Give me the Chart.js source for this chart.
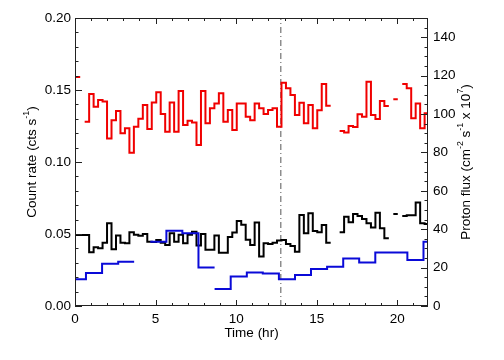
<!DOCTYPE html>
<html><head><meta charset="utf-8">
<script src="https://cdn.jsdelivr.net/npm/chart.js@4/dist/chart.umd.min.js"></script>
<style>html,body{margin:0;padding:0;background:#fff}</style>
</head><body>
<canvas id="c" width="504" height="360"></canvas>
<script>
// ---- tick labels ----
const xTicks = [0, 5, 10, 15, 20];
const countTicks = [0, 0.05, 0.10, 0.15, 0.20];
const fluxTicks = [0, 20, 40, 60, 80, 100, 120, 140];

// ---- count-rate series: fixed time bins ----
const binStartHr = 0.045;
const binWidthHr = 0.2775;
const redRate = [
  0.159, null, 0.128, 0.1472, 0.1384, 0.143, 0.142, 0.1164, 0.129, 0.1354,
  0.120, 0.1234, 0.1065, 0.1245, 0.130, 0.1396, 0.123, 0.1414, 0.1484, 0.1333,
  0.121, 0.1414, 0.121, 0.1493, 0.1257, 0.1287, 0.1275, 0.1118, 0.1493, 0.1269,
  0.1373, 0.1407, 0.1477, 0.128, 0.1361, 0.1222, 0.1407, 0.1407, 0.1315, 0.129,
  0.1407, 0.1373, 0.1333, 0.1361, 0.1373, 0.1245, 0.155, 0.1512, 0.1465, 0.1326,
  0.1412, 0.1269, 0.1396, 0.1234, 0.136, 0.1542, 0.139, null, null, 0.1215,
  0.1204, 0.125, 0.1243, 0.1331, 0.1315, 0.1558, 0.1326, 0.1299, 0.1424, 0.1389,
  null, 0.1435, null, 0.1542, 0.1512, 0.1303, 0.1407, 0.1234, 0.1338
];
const blackRate = [
  0.0493, 0.0493, 0.0493, 0.0373, 0.0408, 0.0401, 0.044, 0.0574, 0.0394, 0.049,
  0.044, 0.0435, 0.0512, 0.0495, 0.0488, 0.050, 0.0447, 0.0444, 0.0458, 0.044,
  0.0424, 0.0505, 0.0447, 0.0495, 0.0435, 0.0495, 0.0516, 0.042, 0.050, 0.039,
  0.039, 0.049, 0.037, 0.037, 0.048, 0.051, 0.059, 0.0565, 0.046, 0.0424,
  0.058, 0.0343, 0.0435, 0.0431, 0.044, 0.0454, 0.0458, 0.0431, 0.0417, 0.0377,
  0.0632, 0.0505, 0.0644, 0.052, 0.0512, 0.0563, 0.044, null, null, 0.0512,
  0.062, 0.0581, 0.0639, 0.0625, 0.0604, 0.0574, 0.0546, 0.0648, 0.054, 0.047,
  null, 0.0639, null, 0.0625, 0.063, 0.063, 0.0718, 0.0574, 0.057
];

// ---- proton flux: hourly bins ----
const protonHour = [-0.32, 0.68, 1.68, 2.68, 3.67, 4.67, 5.67, 6.66, 7.66, 8.66, 9.66, 10.66,
  11.65, 12.65, 13.65, 14.64, 15.64, 16.64, 17.63, 18.63, 19.63, 20.62, 21.62];
const protonFlux = [13.9, 17.2, 22.0, 23.1, null, 33.5, 39.2, 37.9, 20.1, 8.9, 15.3, 17.5,
  16.9, 13.9, 16.1, 19.3, 20.5, 24.8, 22.6, 27.8, 27.8, 24.0, 33.5];
const protonNoJoin = [8.66];

const markerHour = 12.77;

// ---- build step outlines from bins ----
function binSteps(starts, widths, vals, noJoin) {
  const pts = [];
  let prevNull = true;
  for (let i = 0; i < vals.length; i++) {
    const v = vals[i];
    if (v === null) { pts.push({x: starts[i], y: null}); prevNull = true; continue; }
    if (!prevNull && noJoin.includes(starts[i])) pts.push({x: starts[i], y: null});
    pts.push({x: starts[i], y: v});
    pts.push({x: starts[i] + widths[i], y: v});
    prevNull = false;
  }
  return pts;
}
const rateStarts = redRate.map((_, i) => binStartHr + i * binWidthHr);
const rateWidths = redRate.map(() => binWidthHr);
const protonWidths = protonHour.map((h, i) => i < protonHour.length - 1 ? protonHour[i + 1] - h : 1);

const FONT = '"Liberation Sans", Arial, Helvetica, sans-serif';
const tickFont = {family: FONT, size: 13.5};

const frame = {
  id: 'frame',
  afterDraw(chart) {
    const ctx = chart.ctx, a = chart.chartArea;
    const sx = chart.scales.x, sy = chart.scales.y, sy1 = chart.scales.y1;
    ctx.save();
    ctx.strokeStyle = '#222';
    ctx.lineWidth = 1;
    ctx.strokeRect(a.left + 0.5, a.top + 0.5, a.right - a.left - 1, a.bottom - a.top - 1);
    ctx.beginPath();
    // x ticks bottom and top
    for (let h = 0; h <= 21; h++) {
      const px = Math.round(sx.getPixelForValue(h)) + 0.5;
      const len = (h % 5 === 0) ? 6 : 3;
      ctx.moveTo(px, a.bottom); ctx.lineTo(px, a.bottom - len);
      ctx.moveTo(px, a.top); ctx.lineTo(px, a.top + len);
    }
    // left ticks
    for (let k = 0; k <= 20; k++) {
      const py = Math.round(sy.getPixelForValue(k * 0.01)) + 0.5;
      const len = (k % 5 === 0) ? 7 : 3.5;
      ctx.moveTo(a.left, py); ctx.lineTo(a.left + len, py);
    }
    // right ticks
    for (let k = 0; k <= 30; k++) {
      const py = Math.round(sy1.getPixelForValue(k * 5)) + 0.5;
      const len = (k % 4 === 0) ? 7 : 3.5;
      ctx.moveTo(a.right, py); ctx.lineTo(a.right - len, py);
    }
    ctx.stroke();

    // titles
    ctx.fillStyle = '#000';
    function rich(parts, cx, cy, rot, size) {
      ctx.save();
      ctx.translate(cx, cy);
      ctx.rotate(rot);
      ctx.textBaseline = 'middle';
      ctx.textAlign = 'left';
      const ss = size * 0.65;
      let total = 0;
      for (const p of parts) {
        ctx.font = (p.sup ? ss : size) + 'px ' + FONT;
        p.w = ctx.measureText(p.t).width;
        total += p.w;
      }
      let x = -total / 2;
      for (const p of parts) {
        ctx.font = (p.sup ? ss : size) + 'px ' + FONT;
        ctx.fillText(p.t, x, p.sup ? -size * 0.42 : 0);
        x += p.w;
      }
      ctx.restore();
    }
    rich([{t: 'Time (hr)'}], (a.left + a.right) / 2, 333, 0, 13.5);
    rich([{t: 'Count rate (cts s'}, {t: '-1', sup: true}, {t: ')'}], 32, (a.top + a.bottom) / 2, -Math.PI / 2, 13.5);
    rich([{t: 'Proton flux (cm'}, {t: '-2', sup: true}, {t: ' s'}, {t: '-1', sup: true},
          {t: ' x 10'}, {t: '7', sup: true}, {t: ')'}], 466, (a.top + a.bottom) / 2, -Math.PI / 2, 13.5);
    ctx.restore();
  }
};

new Chart(document.getElementById('c'), {
  type: 'line',
  data: {
    datasets: [
      {data: binSteps(protonHour, protonWidths, protonFlux, protonNoJoin), yAxisID: 'y1',
       borderColor: '#0a0ad8', borderWidth: 2},
      {data: binSteps(rateStarts, rateWidths, blackRate, []), yAxisID: 'y',
       borderColor: '#000000', borderWidth: 2},
      {data: binSteps(rateStarts, rateWidths, redRate, []), yAxisID: 'y',
       borderColor: '#f00000', borderWidth: 2},
      {data: [{x: markerHour, y: 0}, {x: markerHour, y: 0.2}], yAxisID: 'y',
       borderColor: '#555', borderWidth: 1, borderDash: [6, 3, 1, 3]}
    ]
  },
  options: {
    responsive: false,
    animation: false,
    events: [],
    parsing: true,
    spanGaps: false,
    elements: {point: {radius: 0}, line: {tension: 0, borderCapStyle: 'butt', borderJoinStyle: 'miter'}},
    layout: {padding: {top: 18, left: 0, right: 0, bottom: 0}},
    plugins: {legend: {display: false}, tooltip: {enabled: false}},
    scales: {
      x: {
        type: 'linear', min: 0, max: 21.9,
        afterBuildTicks: s => { s.ticks = xTicks.map(v => ({value: v})); },
        afterFit: s => { s.height = 54; },
        ticks: {font: tickFont, color: '#000', padding: 5, maxRotation: 0, autoSkip: false,
                callback: v => String(v)},
        grid: {display: false, drawTicks: false},
        border: {display: false}
      },
      y: {
        position: 'left', min: 0, max: 0.2,
        afterBuildTicks: s => { s.ticks = countTicks.map(v => ({value: v})); },
        afterFit: s => { s.width = 75; },
        ticks: {font: tickFont, color: '#000', padding: 4, autoSkip: false,
                callback: v => Number(v).toFixed(2)},
        grid: {display: false, drawTicks: false},
        border: {display: false}
      },
      y1: {
        position: 'right', min: 0, max: 150,
        afterBuildTicks: s => { s.ticks = fluxTicks.map(v => ({value: v})); },
        afterFit: s => { s.width = 76; },
        ticks: {font: tickFont, color: '#000', padding: 5, autoSkip: false,
                callback: v => String(v)},
        grid: {display: false, drawTicks: false},
        border: {display: false}
      }
    }
  },
  plugins: [frame]
});
</script>
</body></html>
